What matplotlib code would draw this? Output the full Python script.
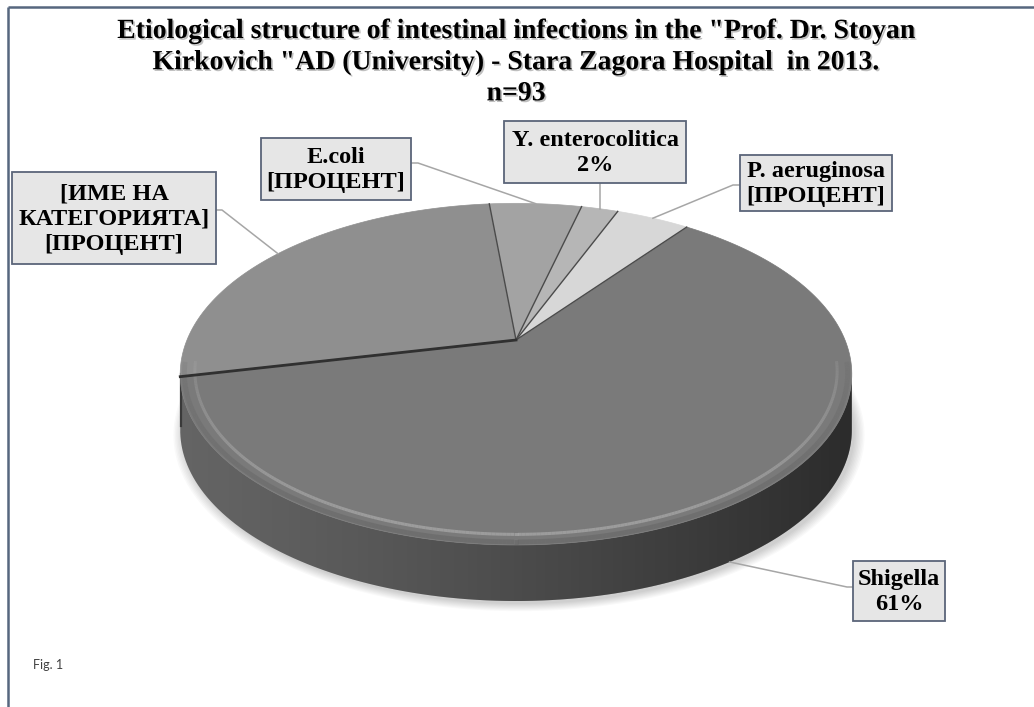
import numpy as np
import matplotlib
matplotlib.use("Agg")
import matplotlib.pyplot as plt
from matplotlib.patches import Polygon
from matplotlib.collections import LineCollection
import matplotlib.patheffects as pe

# ---------------- data ----------------
categories = ["Shigella", "[ИМЕ НА\nКАТЕГОРИЯТА]", "E.coli", "Y. enterocolitica", "P. aeruginosa"]
counts = [57, 25, 5, 2, 4]            # n = 93
pct_labels = ["61%", "[ПРОЦЕНТ]", "[ПРОЦЕНТ]", "2%", "[ПРОЦЕНТ]"]
top_colors = ["#7a7a7a", "#8f8f8f", "#a3a3a3", "#b6b6b6", "#d7d7d7"]
title = ('Etiological structure of intestinal infections in the "Prof. Dr. Stoyan\n'
         'Kirkovich "AD (University) - Stara Zagora Hospital  in 2013.\n'
         'n=93')

# ---------------- geometry (perspective pie) ----------------
W, H = 1034, 707
cx, cy = 516, 340          # projected pie centre
s, t, k = 329.0, 164.0, 0.20
depth = 56
start_angle = 53.0         # degrees, slices run clockwise


def proj(theta_deg, r=1.0, dz=0.0):
    th = np.radians(np.asarray(theta_deg, dtype=float))
    X = r * np.cos(th)
    Y = r * np.sin(th)
    den = 1 + k * Y
    return cx + s * X / den, cy - t * Y / den + dz


fig = plt.figure(figsize=(W / 100, H / 100), dpi=100)
ax = fig.add_axes([0, 0, 1, 1])
ax.set_xlim(0, W)
ax.set_ylim(H, 0)
ax.axis("off")

total = float(sum(counts))
spans = [c / total * 360.0 for c in counts]
bounds = []
a = start_angle
for sp in spans:
    bounds.append((a, a - sp))
    a -= sp

# visible side range (x-extremes of projected rim)
thL = 180 + np.degrees(np.arcsin(k))
thR = 360 - np.degrees(np.arcsin(k))

# ---- shadow under the pie ----
th_all = np.linspace(0, 360, 400)
for i in range(8):
    rr = 1.0 + 0.004 * i
    xs, ys = proj(th_all, rr, depth + 3)
    ax.add_patch(Polygon(np.column_stack([xs + 3, ys]), closed=True,
                         facecolor="black", edgecolor="none", alpha=0.025, zorder=1))

# ---- side of the pie ----
for (a0, a1), col in zip(bounds, top_colors):
    lo, hi = min(a0, a1), max(a0, a1)
    for shift in (-360, 0, 360):
        l2, h2 = max(lo + shift, thL), min(hi + shift, thR)
        if h2 > l2:
            th = np.linspace(l2, h2, 120)
            xt, yt = proj(th)
            xb, yb = proj(th[::-1], 1.0, depth)
            poly = np.column_stack([np.r_[xt, xb], np.r_[yt, yb]])
            rgb = np.array(matplotlib.colors.to_rgb(col)) * 0.82
            ax.add_patch(Polygon(poly, closed=True, facecolor=rgb,
                                 edgecolor="none", zorder=2))

th = np.linspace(thL, thR, 300)
xt, yt = proj(th)
xb, yb = proj(th[::-1], 1.0, depth)
side_poly = Polygon(np.column_stack([np.r_[xt, xb], np.r_[yt, yb]]), closed=True,
                    facecolor="none", edgecolor="none", transform=ax.transData)
ax.add_patch(side_poly)
grad = np.zeros((1, 256, 4))
grad[..., 3] = np.linspace(0.0, 0.62, 256) ** 1.2
im = ax.imshow(grad, extent=(xt.min(), xt.max(), yb.max() + 2, yt.min() - 2),
               aspect="auto", zorder=3, interpolation="bilinear")
im.set_clip_path(side_poly)
# dark edge on the left side
xl, yl = proj(thL)
ax.plot([xl + 1, xl + 1], [yl, yl + depth - 4], color="#3a3a3a", lw=1.6, zorder=4)

# ---- top face ----
for (a0, a1), col in zip(bounds, top_colors):
    th = np.linspace(a0, a1, 200)
    xr, yr = proj(th)
    poly = np.column_stack([np.r_[cx, xr], np.r_[cy, yr]])
    ax.add_patch(Polygon(poly, closed=True, facecolor=col, edgecolor=col,
                         lw=0.5, zorder=5))

# bevel on the front rim (fades towards the sides)
thf = np.linspace(thL - 4, thR + 4, 300)
fade = np.clip(-np.sin(np.radians(thf)) + 0.05, 0, 1) ** 0.7
for r, c, al, lw in [(0.988, "#5a5a5a", 0.35, 3.5), (0.958, "#b4b4b4", 0.6, 2.2)]:
    xr, yr = proj(thf, r)
    segs = np.stack([np.column_stack([xr[:-1], yr[:-1]]),
                     np.column_stack([xr[1:], yr[1:]])], axis=1)
    cols = np.zeros((len(segs), 4))
    cols[:, :3] = matplotlib.colors.to_rgb(c)
    cols[:, 3] = al * fade[:-1]
    ax.add_collection(LineCollection(segs, colors=cols, linewidths=lw, zorder=6))

# radial slice boundaries
for i, (a0, a1) in enumerate(bounds):
    xr, yr = proj(a0)
    ax.plot([cx, xr], [cy, yr], color="#4a4a4a", lw=1.0, zorder=7)
# darker boundary between Shigella and the named category
xr, yr = proj(bounds[0][1])
ax.plot([cx, xr], [cy, yr], color="#303030", lw=2.0, zorder=7)

# ---------------- labels ----------------
box_centers = [(899, 591), (114, 218), (336, 169), (595, 152), (816, 183)]
box_half = [(46, 30), (102, 46), (75, 31), (91, 31), (76, 28)]
for i, (cat, pl) in enumerate(zip(categories, pct_labels)):
    bx, by = box_centers[i]
    hw, hh = box_half[i]
    ax.add_patch(plt.Rectangle((bx - hw, by - hh), 2 * hw, 2 * hh,
                               facecolor="#e6e6e6", edgecolor="#5b6579",
                               lw=1.3, zorder=9))
    ax.text(bx, by + 1, f"{cat}\n{pl}", ha="center", va="center",
            fontsize=17.5, fontweight="bold", family="Liberation Serif",
            linespacing=1.28, zorder=10)
    # leader line
    a0, a1 = bounds[i]
    mid = (a0 + a1) / 2
    if i == 0:
        ax_, ay_ = proj(mid, 1.0, depth)
        pts = [(ax_, ay_), (bx - hw - 6, by - 4), (bx - hw, by - 4)]
    else:
        ax_, ay_ = proj(mid)
        if i == 1:
            pts = [(ax_, ay_), (bx + hw + 6, by - 8), (bx + hw, by - 8)]
        elif i == 2:
            pts = [(ax_, ay_), (bx + hw + 7, by - 6), (bx + hw, by - 6)]
        elif i == 3:
            pts = [(ax_, ay_), (ax_, by + hh)]
        else:
            pts = [(ax_, ay_), (bx - hw - 7, by + 2), (bx - hw, by + 2)]
    pts = np.array(pts)
    ax.plot(pts[:, 0], pts[:, 1], color="#a6a6a6", lw=1.1, zorder=8)

# ---------------- title & frame ----------------
ax.text(516, 19, title, ha="center", va="top", fontsize=20, fontweight="bold",
        family="Liberation Serif", linespacing=1.32, zorder=10,
        path_effects=[pe.SimplePatchShadow(offset=(1.2, -1.2), alpha=0.25),
                      pe.Normal()])
ax.text(33, 665, "Fig. 1", ha="left", va="center", fontsize=9, family="Lato",
        color="#404040")
ax.plot([8, W], [7, 7], color="#56677f", lw=1.8, solid_capstyle="butt")
ax.plot([8, 8], [7, H], color="#56677f", lw=1.8, solid_capstyle="butt")

fig.savefig("out.png", dpi=100)
